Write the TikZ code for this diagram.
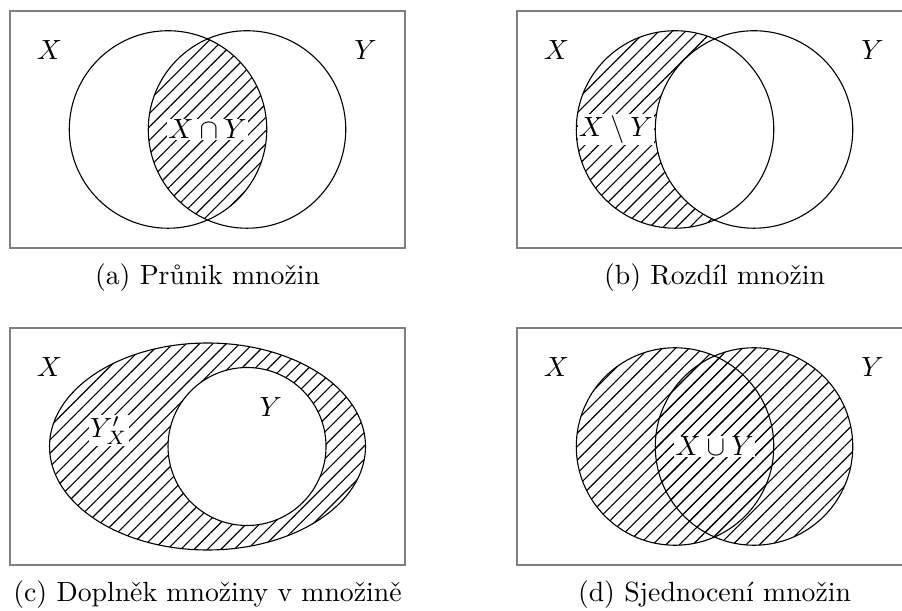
\documentclass[tikz,border=0pt]{standalone}
\usepackage{tikz}
\usetikzlibrary{patterns.meta, positioning}
\tikzset{
    setframe/.style={draw=gray, thin},
    setline/.style={draw=black, thin},
    hatched/.style={pattern={Lines[angle=45, distance=3.4pt, line width=0.4pt]}},
    setname/.style={inner sep=1pt},
    oplabel/.style={fill=white, inner sep=0.5pt},
    subcap/.style={font=\normalsize, inner sep=1pt},
}

\begin{document}
\begin{tikzpicture}
    \useasboundingbox (-2.627,-6.083) rectangle (8.791,1.639);

    % (a) intersection
    \begin{scope}
        \begin{scope}
            \clip (-0.5,0) circle (1.25);
            \fill[hatched] (0.5,0) circle (1.25);
        \end{scope}
        \draw[setframe] (-2.5,-1.5) rectangle (2.5,1.5);
        \draw[setline] (-0.5,0) circle (1.25);
        \draw[setline] (0.5,0) circle (1.25);
        \node[setname] (aX) at (-2,1) {$X$};
        \node[setname] (aY) at (2,1) {$Y$};
        \node[oplabel] (aop) at (0,0) {$X\cap Y$};
        \node[subcap] (acap) at (0,-1.87) {(a) Průnik množin};
    \end{scope}

    % (b) difference
    \begin{scope}[shift={(6.418,0)}]
        \begin{scope}
            \clip (-0.5,0) circle (1.25);
            \fill[hatched, even odd rule] (-0.5,0) circle (1.25) (0.5,0) circle (1.25);
        \end{scope}
        \draw[setframe] (-2.5,-1.5) rectangle (2.5,1.5);
        \draw[setline] (-0.5,0) circle (1.25);
        \draw[setline] (0.5,0) circle (1.25);
        \node[setname] (bX) at (-2,1) {$X$};
        \node[setname] (bY) at (2,1) {$Y$};
        \node[oplabel] (bop) at (-1.25,0) {$X\setminus Y$};
        \node[subcap] (bcap) at (0,-1.87) {(b) Rozdíl množin};
    \end{scope}

    % (c) complement
    \begin{scope}[shift={(0,-4.013)}]
        \fill[hatched, even odd rule] (0,0) ellipse (2 and 1.31) (0.5,0) circle (1);
        \draw[setframe] (-2.5,-1.5) rectangle (2.5,1.5);
        \draw[setline] (0,0) ellipse (2 and 1.31);
        \draw[setline] (0.5,0) circle (1);
        \node[setname] (cX) at (-2,1) {$X$};
        \node[setname] (cY) at (0.8,0.5) {$Y$};
        \node[oplabel] (cop) at (-1.25,0.2) {$Y'_X$};
        \node[subcap] (ccap) at (0,-1.87) {(c) Doplněk množiny v množině};
    \end{scope}

    % (d) union
    \begin{scope}[shift={(6.418,-4.013)}]
        \fill[hatched] (-0.5,0) circle (1.25);
        \fill[hatched] (0.5,0) circle (1.25);
        \draw[setframe] (-2.5,-1.5) rectangle (2.5,1.5);
        \draw[setline] (-0.5,0) circle (1.25);
        \draw[setline] (0.5,0) circle (1.25);
        \node[setname] (dX) at (-2,1) {$X$};
        \node[setname] (dY) at (2,1) {$Y$};
        \node[oplabel] (dop) at (0,0) {$X\cup Y$};
        \node[subcap] (dcap) at (0,-1.87) {(d) Sjednocení množin};
    \end{scope}
\end{tikzpicture}
\end{document}
